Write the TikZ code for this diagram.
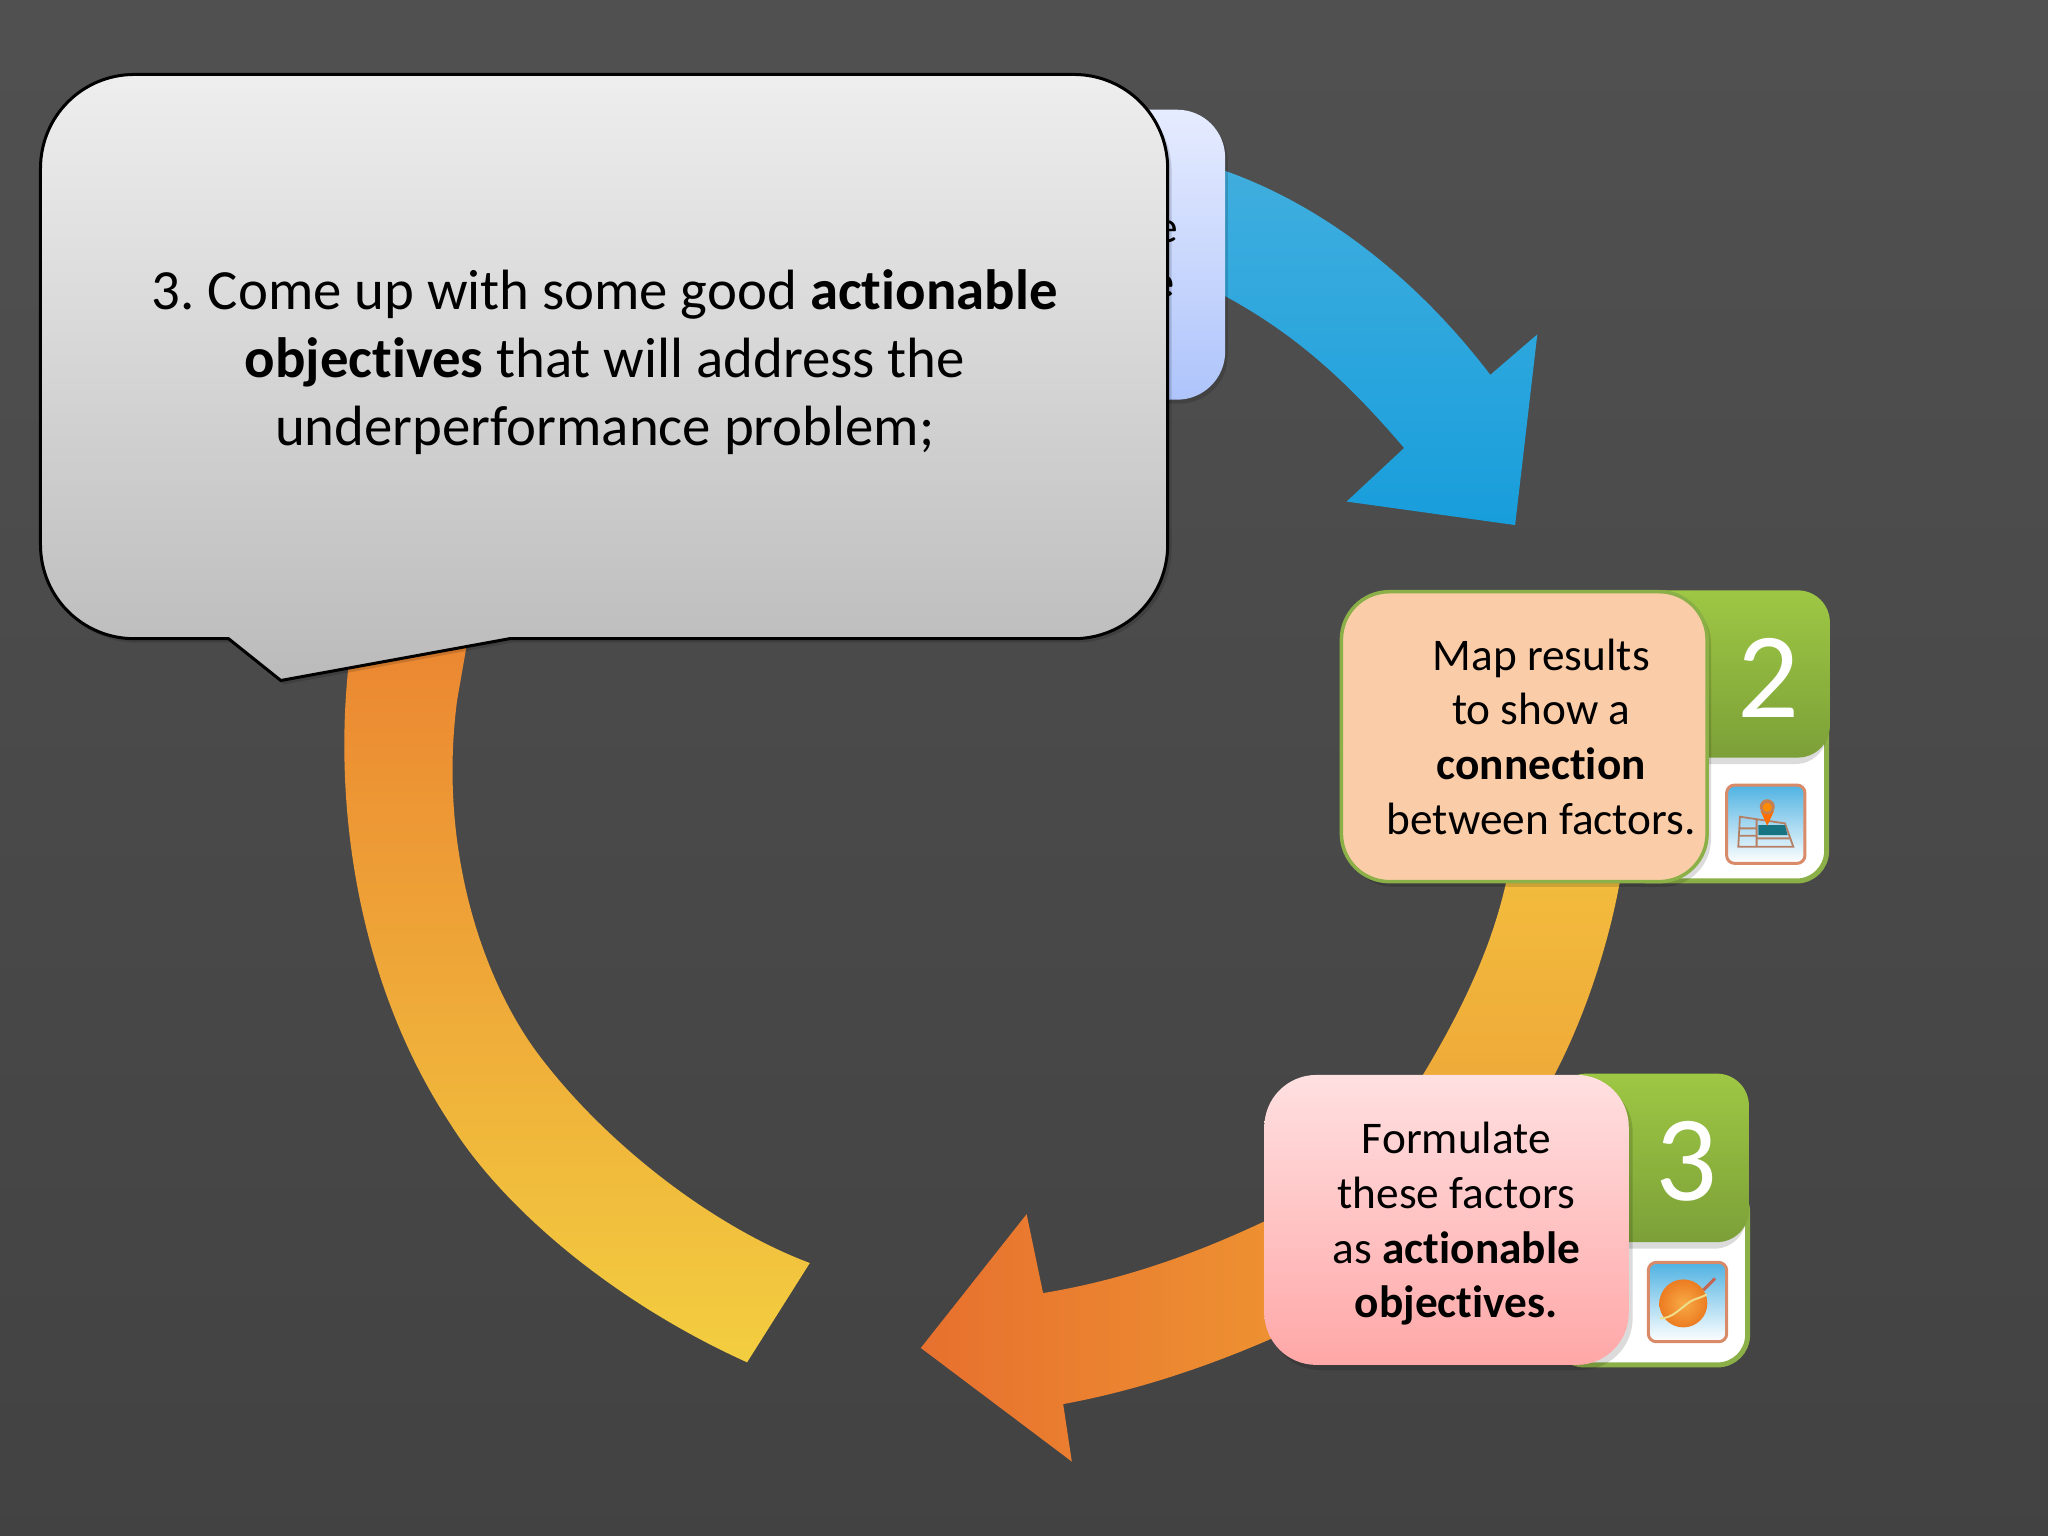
\documentclass[tikz,border=0pt]{standalone}
\usepackage{fontspec}
\setmainfont[Ligatures=NoCommon]{Carlito}
\frenchspacing
\definecolor{tabgreen}{HTML}{8CB048}
\definecolor{iconedge}{HTML}{D98A68}
\definecolor{iconsky}{HTML}{4FB2E2}
\definecolor{gridline}{HTML}{B57F66}
\definecolor{tabtop}{RGB}{158,199,68}
\definecolor{tabbottom}{RGB}{124,160,56}
\tikzset{
  x=1.30612pt,y=-1.30612pt,
  greentab/.style={rounded corners=32pt,top color=tabtop,bottom color=tabbottom},
  greenframe/.style={fill=white,draw=tabgreen,line width=5pt,rounded corners=30pt},
  softshadow/.style={fill=black,opacity=.14,draw=none},
  bodytext/.style={font=\fontsize{45.3}{54.6}\selectfont,text=black,align=center,inner sep=0pt},
  digit/.style={font=\fontsize{122}{122}\selectfont,text=white,inner sep=0pt},
  icon/.style={rounded corners=8pt,draw=iconedge,line width=3pt,top color=iconsky,bottom color=white}
}
\begin{document}
\begin{tikzpicture}
\useasboundingbox (0,0) rectangle (1568,1176);
\shade[top color=black!68.5,bottom color=black!74] (0,0) rectangle (1568,1176);
% left arc
\shade[top color={rgb,255:red,234;green,128;blue,48},bottom color={rgb,255:red,243;green,206;blue,64}]
  (275,440) -- (268,500) .. controls (254,610) and (272,750) .. (344.5,860)
  .. controls (385,925) and (470,997) .. (572,1043) -- (620,967)
  .. controls (548,940) and (466,878) .. (413.5,809)
  .. controls (370,752) and (335,650) .. (350,536) -- (358,490) -- (365,440) -- cycle;
% lower right arrow: upper part
\shade[top color={rgb,255:red,243;green,190;blue,62},bottom color={rgb,255:red,238;green,165;blue,55}]
  (1244,650) -- (1240,676) .. controls (1232,720) and (1215,775) .. (1190.6,822) -- (1165,870)
  -- (1060,870) -- (1090,822) .. controls (1120,772) and (1142,725) .. (1153,676) -- (1158,650) -- cycle;
% lower right arrow: head
\shade[left color={rgb,255:red,231;green,112;blue,46},right color={rgb,255:red,238;green,148;blue,50}]
  (1000,1012) -- (971,1026) .. controls (920,1048) and (868,1065) .. (814,1075)
  -- (820.6,1119) -- (705,1032) -- (786,929.6) -- (798.6,990)
  .. controls (860,980) and (915,960) .. (967,935.6) -- (1000,920) -- cycle;
% blue arrow
\shade[top color={rgb,255:red,64;green,174;blue,222},bottom color={rgb,255:red,24;green,158;blue,220}]
  (925,126) -- (938.5,131) .. controls (1020,160) and (1090,220) .. (1141,287)
  -- (1177,256) -- (1160,402) -- (1031,384) -- (1075,343)
  .. controls (1030,290) and (990,255) .. (938.5,227) -- (925,220) -- cycle;
% step 1 box
\fill[softshadow,rounded corners=48pt] (702,87) rectangle (940,309);
\shade[rounded corners=48pt,top color={rgb,255:red,230;green,236;blue,255},bottom color={rgb,255:red,174;green,196;blue,251}] (700,84) rectangle (938,306);
\node[bodytext,anchor=east] (hiddenA) at (902,177) {e};
\node[bodytext,anchor=east] (hiddenB) at (899,219) {\textbf{e}};
% step 2
\draw[greenframe] (1240,540) rectangle (1398.5,674.5);
\fill[softshadow,rounded corners=32pt] (1240,456) rectangle (1399,585);
\shade[greentab] (1240,452) rectangle (1401,580);
\begin{scope}[shift={(1313,593.4)},x=.33333pt,y=-.33333pt]
  \draw[icon] (35,30) rectangle (270,265);
  \draw[gridline,line width=1.8pt] (75,125) -- (210,145) -- (235,215) -- (70,215) -- cycle
    (125,130) -- (125,215) (72,160) -- (125,160) (71,182) -- (125,182) (125,190) -- (228,190);
  \fill[black!30!teal!70!iconsky] (130,150) -- (210,150) -- (218,180) -- (130,180) -- cycle;
  \fill[orange!85!red] (157,152) -- (137,108) -- (177,108) -- cycle;
  \fill[gridline!80!orange] (157,95) circle[radius=7.5pt];
  \fill[orange!90!yellow] (157,97) circle[radius=4.5pt];
\end{scope}
\fill[softshadow,rounded corners=48pt] (1030,456) rectangle (1310,679);
\draw[rounded corners=48pt,draw=tabgreen,line width=3.5pt,fill={rgb,255:red,251;green,204;blue,168}] (1027,453) rectangle (1307,675);
\node[bodytext] (maptext) at (1180,564) {Map results\\to show a\\\textbf{connection}\\between factors.};
\node[digit] (two) at (1354,519) {2};
% step 3
\draw[greenframe] (1190,905) rectangle (1338,1045);
\fill[softshadow,rounded corners=32pt] (1190,826) rectangle (1337,956);
\shade[greentab] (1190,822) rectangle (1339,951);
\begin{scope}[shift={(1251.8,960.9)},x=.33333pt,y=-.33333pt]
  \draw[icon] (40,22) rectangle (275,260);
  \shade[inner color={rgb,255:red,248;green,170;blue,70},outer color={rgb,255:red,236;green,124;blue,34}] (145,145) circle[radius=24pt];
  \draw[yellow!45!white!75!gridline,line width=2pt] (75,190) .. controls (110,190) and (130,165) .. (165,140) .. controls (180,130) and (195,130) .. (215,118);
  \draw[gridline!80!red,line width=3pt] (205,105) -- (240,70);
\end{scope}
\fill[softshadow,rounded corners=52pt] (971,827) rectangle (1250,1049);
\shade[rounded corners=52pt,top color={rgb,255:red,255;green,224;blue,225},bottom color={rgb,255:red,255;green,167;blue,167}] (968,823) rectangle (1247,1045);
\node[bodytext] (formtext) at (1115,937) {Formulate\\these factors\\as \textbf{actionable}\\\textbf{objectives.}};
\node[digit] (three) at (1291,889) {3};
% callout
\fill[softshadow] (105,60) -- (824,60) .. controls (864,60) and (897,92) .. (897,132) -- (897,420)
  .. controls (897,460) and (864,492) .. (824,492) -- (392,492) -- (217,524) -- (177,492) -- (105,492)
  .. controls (65,492) and (33,460) .. (33,420) -- (33,132) .. controls (33,92) and (65,60) .. (105,60) -- cycle;
\draw[line width=3pt,draw=black,top color={rgb,255:red,238;green,238;blue,238},bottom color={rgb,255:red,187;green,187;blue,187}]
  (103,57) -- (822,57) .. controls (862,57) and (894,89) .. (894,129) -- (894,417)
  .. controls (894,457) and (862,489) .. (822,489) -- (390,489) -- (215,521) -- (175,489) -- (103,489)
  .. controls (63,489) and (31,457) .. (31,417) -- (31,129) .. controls (31,89) and (63,57) .. (103,57) -- cycle;
\node[font=\fontsize{56.8}{68}\selectfont,align=center,inner sep=0pt] (calltext) at (463,277) {3. Come up with some good \textbf{actionable}\\\textbf{objectives} that will address the\\underperformance problem;};
\end{tikzpicture}
\end{document}
